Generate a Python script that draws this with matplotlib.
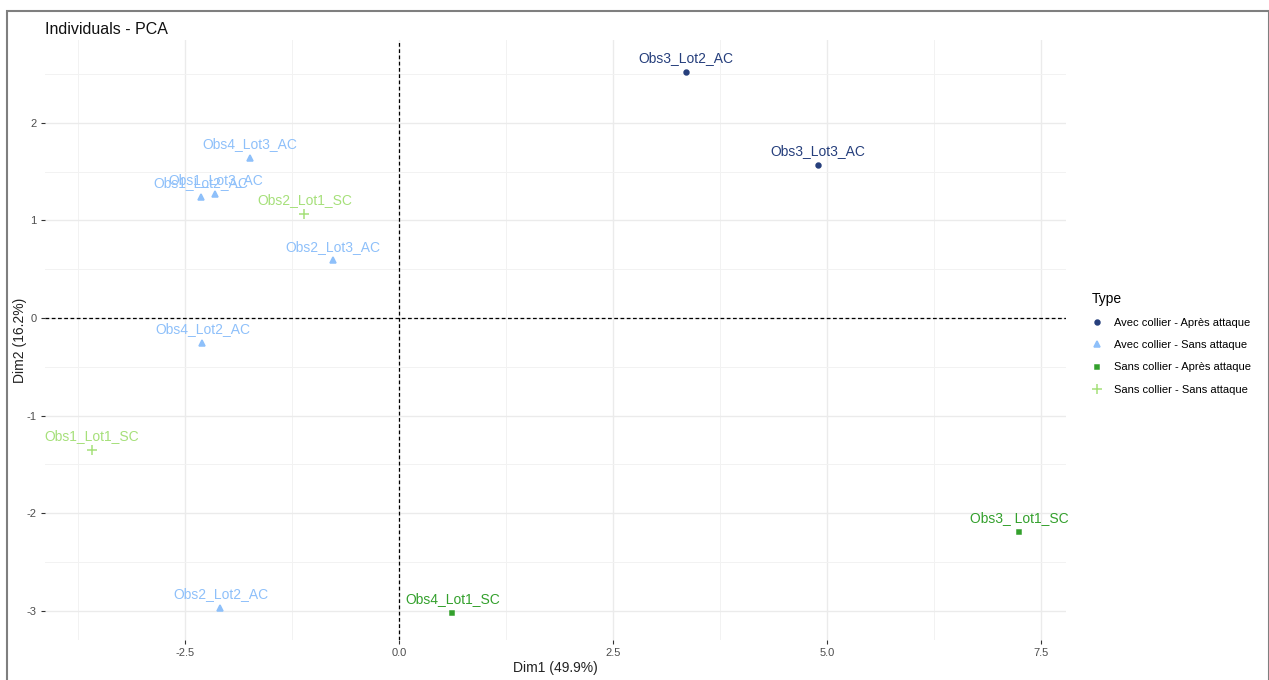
import matplotlib.pyplot as plt
from matplotlib.lines import Line2D
from matplotlib.patches import Rectangle

plt.rcParams['font.family'] = ['Liberation Sans', 'DejaVu Sans']
plt.rcParams['axes.unicode_minus'] = False

# Individus (coordonnées)
noms = ['Obs3_Lot2_AC', 'Obs3_Lot3_AC', 'Obs4_Lot3_AC', 'Obs1_Lot2_AC',
        'Obs1_Lot3_AC', 'Obs2_Lot1_SC', 'Obs2_Lot3_AC', 'Obs4_Lot2_AC',
        'Obs1_Lot1_SC', 'Obs2_Lot2_AC', 'Obs4_Lot1_SC', 'Obs3_ Lot1_SC']
dim1 = [3.35, 4.89, -1.75, -2.32, -2.15, -1.11, -0.78, -2.30, -3.59, -2.09, 0.62, 7.24]
dim2 = [2.52, 1.57, 1.64, 1.24, 1.27, 1.07, 0.59, -0.26, -1.35, -2.97, -3.02, -2.19]
types = ['AC_apres', 'AC_apres', 'AC_sans', 'AC_sans', 'AC_sans', 'SC_sans',
         'AC_sans', 'AC_sans', 'SC_sans', 'AC_sans', 'SC_apres', 'SC_apres']

type_ordre = ['AC_apres', 'AC_sans', 'SC_apres', 'SC_sans']
type_labels = ['Avec collier - Après attaque', 'Avec collier - Sans attaque',
               'Sans collier - Après attaque', 'Sans collier - Sans attaque']
couleurs = {'AC_apres': '#263f7c', 'AC_sans': '#8ec0fa',
            'SC_apres': '#33a02c', 'SC_sans': '#a6e07a'}
marqueurs = {'AC_apres': 'o', 'AC_sans': '^', 'SC_apres': 's', 'SC_sans': '+'}
tailles = {'AC_apres': 3.5, 'AC_sans': 4, 'SC_apres': 3.5, 'SC_sans': 6.5}

fig = plt.figure(figsize=(12.69, 6.8), dpi=100)
ax = fig.add_axes([45 / 1269, 40 / 680, (1066 - 45) / 1269, (640 - 40) / 680])

for x, y, nom, t in zip(dim1, dim2, noms, types):
    ax.plot(x, y, marker=marqueurs[t], color=couleurs[t], ms=tailles[t],
            mew=1.1, ls='none', zorder=3)
    ax.annotate(nom, (x, y), xytext=(0, 5), textcoords='offset points',
                ha='center', va='bottom', fontsize=10, color=couleurs[t], zorder=4)

ax.axvline(0, color='black', ls=(0, (3, 2)), lw=0.9, zorder=2)
ax.axhline(0, color='black', ls=(0, (3, 2)), lw=0.9, zorder=2)

ax.set_xlim(-4.14, 7.79)
ax.set_ylim(-3.30, 2.85)
ax.set_xticks([-2.5, 0.0, 2.5, 5.0, 7.5])
ax.set_xticklabels(['-2.5', '0.0', '2.5', '5.0', '7.5'])
ax.set_yticks([-3, -2, -1, 0, 1, 2])
ax.set_xticks([-3.75, -1.25, 1.25, 3.75, 6.25], minor=True)
ax.set_yticks([-2.5, -1.5, -0.5, 0.5, 1.5, 2.5], minor=True)
ax.grid(True, which='major', color='#ebebeb', lw=1.0, zorder=0)
ax.grid(True, which='minor', color='#f2f2f2', lw=0.7, zorder=0)
ax.tick_params(which='major', length=3, color='#333333', labelsize=8,
               labelcolor='#4d4d4d', pad=3)
ax.tick_params(which='minor', length=0)
for s in ax.spines.values():
    s.set_visible(False)

ax.set_xlabel('Dim1 (49.9%)', fontsize=10, color='#222222', labelpad=2)
ax.set_ylabel('Dim2 (16.2%)', fontsize=10, color='#222222', labelpad=0)
fig.text(45 / 1269, 1 - 30 / 680, 'Individuals - PCA', fontsize=11.5,
         color='#111111', va='center', ha='left')

handles = [Line2D([], [], marker=marqueurs[t], color=couleurs[t], ls='none',
                  ms=tailles[t], mew=1.1) for t in type_ordre]
leg = ax.legend(handles, type_labels, title='Type', loc='upper left',
                bbox_to_anchor=(1.015, 0.597), frameon=False, fontsize=8,
                title_fontsize=10, handletextpad=1.0, labelspacing=1.1,
                handlelength=1.0)
leg._legend_box.align = 'left'

# cadre gris autour de l'image
fig.patches.append(Rectangle((7 / 1269, -0.05), 1 - 7.5 / 1269, 1 - 11 / 680 + 0.05,
                             transform=fig.transFigure, fill=False,
                             edgecolor='#7f7f7f', lw=1.5))

fig.savefig('out.png', dpi=100)
